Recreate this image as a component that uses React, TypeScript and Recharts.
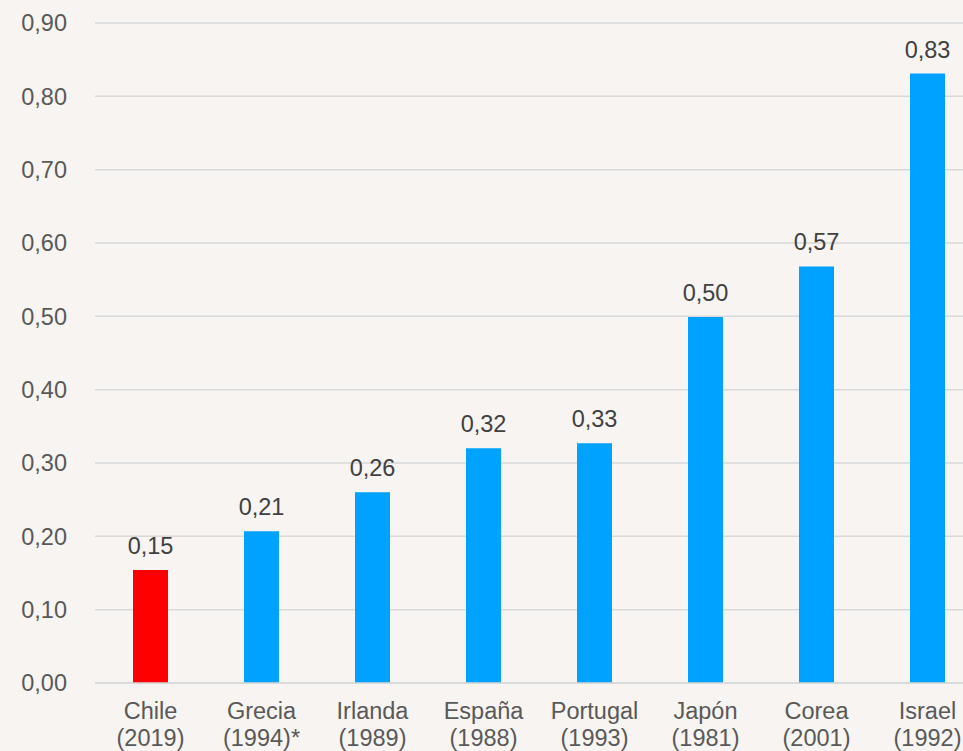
import React from 'react';
import { BarChart, Bar, XAxis, YAxis, CartesianGrid, Cell, LabelList } from 'recharts';

const countries = ['Chile', 'Grecia', 'Irlanda', 'España', 'Portugal', 'Japón', 'Corea', 'Israel'];
const years = ['(2019)', '(1994)*', '(1989)', '(1988)', '(1993)', '(1981)', '(2001)', '(1992)'];
const values = [0.154, 0.207, 0.26, 0.32, 0.327, 0.499, 0.568, 0.831];
const yTicks = [0, 0.1, 0.2, 0.3, 0.4, 0.5, 0.6, 0.7, 0.8, 0.9];
const highlight = 'Chile';

const data = countries.map((c, i) => ({ name: c, year: years[i], value: values[i] }));

const FONT = '"Liberation Sans", Arial, sans-serif';
const TEXT = '#595959';
const FS = 23.5;

const fmt = (v: number) => v.toFixed(2).replace('.', ',');

const XTick = (props: any) => {
  const { x, y, payload, index } = props;
  const yr = years[index] ?? data.find((d) => d.name === payload.value)?.year;
  return (
    <text x={x} y={y} textAnchor="middle" fill={TEXT} fontFamily={FONT} fontSize={FS}>
      <tspan x={x} y={y + 36}>{payload.value}</tspan>
      <tspan x={x} y={y + 63}>{yr}</tspan>
    </text>
  );
};

export default function App() {
  return (
    <div style={{ position: 'absolute', left: 0, top: 0, width: 963, height: 751, overflow: 'hidden', background: '#f7f4f1' }}>
      <BarChart width={983} height={751} data={data} margin={{ top: 23, right: 0, bottom: 0, left: 0 }}>
        <CartesianGrid vertical={false} stroke="#d9d9d9" strokeWidth={1.5} />
        <XAxis
          dataKey="name"
          height={68}
          axisLine={{ stroke: '#d9d9d9', strokeWidth: 1.5 }}
          tickLine={false}
          tickSize={0}
          tickMargin={0}
          interval={0}
          tick={<XTick />}
        />
        <YAxis
          width={95}
          domain={[0, 0.9]}
          ticks={yTicks}
          axisLine={false}
          tickLine={false}
          tickSize={0}
          tickMargin={28}
          tickFormatter={fmt}
          tick={{ fill: TEXT, fontFamily: FONT, fontSize: FS }}
        />
        <Bar dataKey="value" barSize={35} isAnimationActive={false}>
          {data.map((d) => (
            <Cell key={d.name} fill={d.name === highlight ? '#ff0000' : '#00a2ff'} />
          ))}
          <LabelList
            dataKey="value"
            position="top"
            offset={16}
            formatter={(v: any) => fmt(Number(v))}
            style={{ fill: '#404040', fontFamily: FONT, fontSize: FS }}
          />
        </Bar>
      </BarChart>
    </div>
  );
}
